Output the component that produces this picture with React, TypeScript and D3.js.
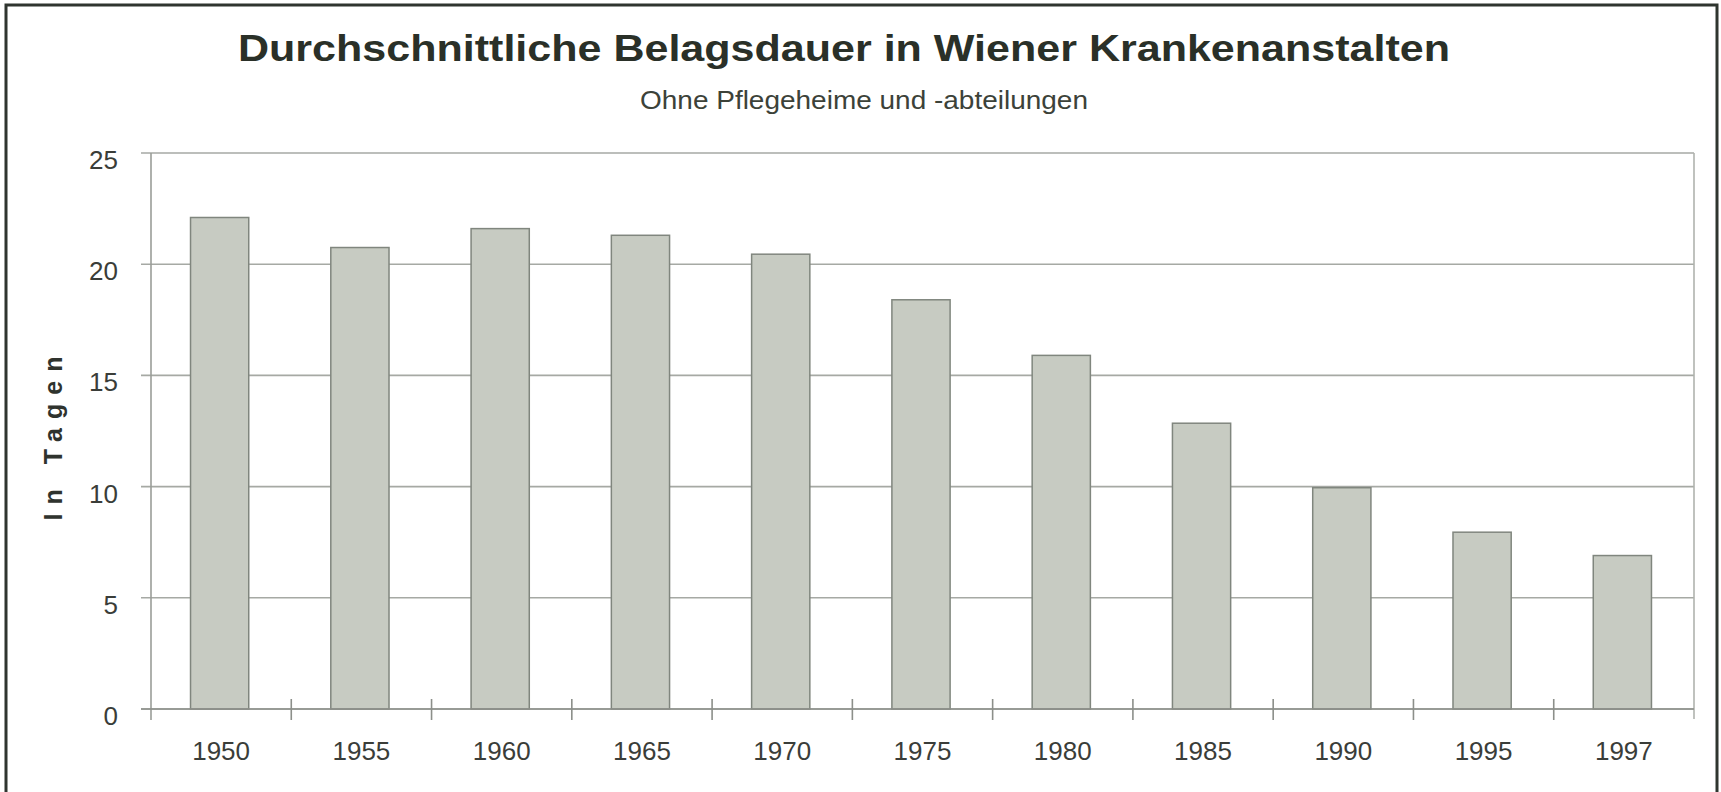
import React from "react";
import * as d3 from "d3";

const years = ["1950", "1955", "1960", "1965", "1970", "1975", "1980", "1985", "1990", "1995", "1997"];
const days = [22.1, 20.75, 21.6, 21.3, 20.45, 18.4, 15.9, 12.85, 9.95, 7.95, 6.9];
const yTicks = [0, 5, 10, 15, 20, 25];
const title = "Durchschnittliche Belagsdauer in Wiener Krankenanstalten";
const subtitle = "Ohne Pflegeheime und -abteilungen";
const yLabel = "In Tagen";

const W = 1721;
const H = 792;
const plot = { left: 151, right: 1694, top: 153, bottom: 709 };

export default function App() {
  const x = d3.scaleBand<string>().domain(years).range([plot.left, plot.right]).padding(0);
  const y = d3.scaleLinear().domain([0, 25]).range([plot.bottom, plot.top]);
  const barW = x.bandwidth() * 0.415;
  const font = "'Liberation Sans', Arial, Helvetica, sans-serif";
  const gridColor = "#a6a9a4";
  const textColor = "#3a3d39";
  const boundaries = d3.range(years.length + 1).map((i) => plot.left + i * x.step());

  return (
    <svg
      width={W}
      height={H}
      style={{ position: "absolute", left: 0, top: 0, background: "#fff" }}
      fontFamily={font}
    >
      <rect x={0} y={0} width={W} height={H} fill="#fff" />
      {/* outer frame */}
      <rect x={6} y={5} width={1711} height={810} fill="none" stroke="#2f352f" strokeWidth={3} />

      {/* title */}
      <text
        x={844}
        y={61}
        textAnchor="middle"
        fontSize={36}
        fontWeight="bold"
        fill="#2a3028"
        textLength={1212}
        lengthAdjust="spacingAndGlyphs"
      >
        {title}
      </text>
      <text x={864} y={109} textAnchor="middle" fontSize={26} fill="#3c4239" textLength={448} lengthAdjust="spacingAndGlyphs">
        {subtitle}
      </text>

      {/* gridlines + y ticks */}
      {yTicks.map((t) => (
        <g key={t}>
          <line x1={plot.left - 10} x2={plot.right} y1={y(t)} y2={y(t)} stroke={gridColor} strokeWidth={1.6} />
          <text x={118} y={y(t) + 16} textAnchor="end" fontSize={26} fill={textColor}>
            {t}
          </text>
        </g>
      ))}

      {/* plot borders */}
      <line x1={plot.left} x2={plot.left} y1={plot.top} y2={plot.bottom + 11} stroke="#9a9d98" strokeWidth={1.6} />
      <line x1={plot.right} x2={plot.right} y1={plot.top} y2={plot.bottom + 10} stroke="#b0b3ae" strokeWidth={1.6} />

      {/* bars */}
      {years.map((yr, i) => {
        const cx = (x(yr) as number) + x.bandwidth() / 2 - 1.5;
        return (
          <rect
            key={yr}
            x={cx - barW / 2}
            y={y(days[i])}
            width={barW}
            height={y(0) - y(days[i])}
            fill="#c7cbc2"
            stroke="#80867e"
            strokeWidth={1.5}
          />
        );
      })}

      {/* x axis */}
      <line x1={plot.left - 10} x2={plot.right} y1={y(0)} y2={y(0)} stroke="#8c8f8a" strokeWidth={1.6} />
      {boundaries.slice(1, -1).map((bx, i) => (
        <line key={i} x1={bx} x2={bx} y1={plot.bottom - 10} y2={plot.bottom + 11} stroke="#8c8f8a" strokeWidth={1.6} />
      ))}
      {years.map((yr) => (
        <text
          key={yr}
          x={(x(yr) as number) + x.bandwidth() / 2}
          y={760}
          textAnchor="middle"
          fontSize={26}
          fill={textColor}
        >
          {yr}
        </text>
      ))}

      {/* y label */}
      <text
        transform="translate(62,434) rotate(-90)"
        textAnchor="middle"
        fontSize={25}
        fontWeight="bold"
        fill="#2f332e"
        letterSpacing={9}
      >
        {yLabel}
      </text>
    </svg>
  );
}
